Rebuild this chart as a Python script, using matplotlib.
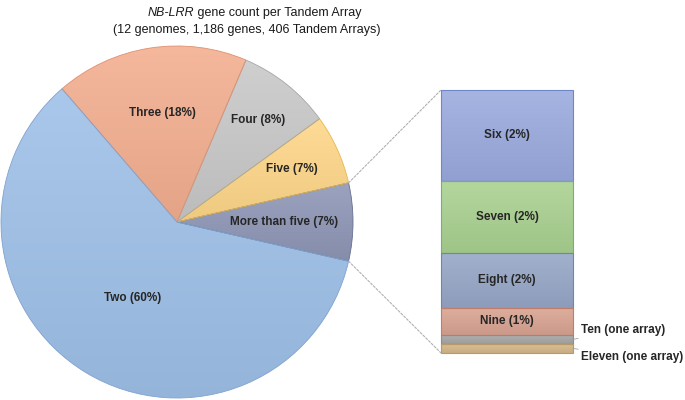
import matplotlib
matplotlib.use("Agg")
import matplotlib.pyplot as plt
from matplotlib.patches import ConnectionPatch
from matplotlib.colors import to_rgb
import numpy as np

plt.rcParams['font.family'] = ['Liberation Sans', 'DejaVu Sans']

# ---- data ----
pie_categories = ["More than five", "Five", "Four", "Three", "Two"]
pie_counts = [29, 26, 35, 72, 244]
pie_pct_labels = ["7%", "7%", "8%", "18%", "60%"]
pie_colors = ["#8e96b6", "#fed688", "#c8c8c8", "#f3ae8f", "#9ec0e8"]
pie_edges = ["#66708f", "#e8b84a", "#a6a6a6", "#e09070", "#7fa3d1"]

bar_categories = ["Six", "Seven", "Eight", "Nine", "Ten", "Eleven"]
bar_counts = [10, 8, 6, 3, 1, 1]
bar_labels = ["Six (2%)", "Seven (2%)", "Eight (2%)", "Nine (1%)", "Ten (one array)", "Eleven (one array)"]
bar_colors = ["#9aaade", "#a9d190", "#95a6c6", "#d9a391", "#a6a6a6", "#d6b889"]
bar_edge = ["#6f86c9", "#7fae6a", "#6e86ad", "#c07e6a", "#8c8c8c", "#b89a6a"]


def mix(c, other, t):
    c = np.array(to_rgb(c)); o = np.array(to_rgb(other))
    return c * (1 - t) + o * t


def grad_fill(ax, patch, color, zorder):
    verts = ax.transData.inverted().transform(patch.get_verts())
    x0, y0 = verts.min(axis=0); x1, y1 = verts.max(axis=0)
    top = mix(color, "white", 0.12); bot = mix(color, "black", 0.06)
    t = np.linspace(0, 1, 64)[:, None]
    img = (top[None, :] * (1 - t) + bot[None, :] * t)[:, None, :]
    im = ax.imshow(img, extent=(x0, x1, y0, y1), origin="upper", aspect="auto",
                   zorder=zorder, interpolation="bilinear")
    im.set_clip_path(patch)


W, H = 685, 400
fig = plt.figure(figsize=(W / 100, H / 100), dpi=100)

# ---- pie ----
cx, cy, r = 177, 222, 176
axp = fig.add_axes([(cx - r) / W, (H - cy - r) / H, 2 * r / W, 2 * r / H])
total = sum(pie_counts)
start = -pie_counts[0] / total * 360 / 2
wedges, _ = axp.pie(pie_counts, colors=pie_colors, startangle=start, counterclock=True,
                    radius=1, wedgeprops=dict(linewidth=0.6))
axp.set_xlim(-1.0, 1.0)
axp.set_ylim(-1.0, 1.0)
axp.set_aspect("equal")
axp.axis("off")
for w, col, ec in zip(wedges, pie_colors, pie_edges):
    w.set_edgecolor(ec)
    w.set_zorder(2)
    w.set_facecolor("none")
    w.set_clip_on(False)
    grad_fill(axp, w, col, 1)
axp.set_xlim(-1.0, 1.0)
axp.set_ylim(-1.0, 1.0)

label_pos = [(0.61, 0.0), (0.655, 0.30), (0.46, 0.58), (-0.08, 0.62), (-0.25, -0.43)]
for name, pct, (lx, ly) in zip(pie_categories, pie_pct_labels, label_pos):
    axp.text(lx, ly, f"{name} ({pct})", ha="center", va="center", fontsize=8.5,
             fontweight="bold", color="#262626", zorder=5)

# ---- bar ----
bx0, bx1, by0, by1 = 441, 573, 90, 353
axb = fig.add_axes([bx0 / W, (H - by1) / H, (bx1 - bx0) / W, (by1 - by0) / H])
sub_total = sum(bar_counts)
bottom = sub_total
seg_mid = []
for cnt, col, ec in zip(bar_counts, bar_colors, bar_edge):
    bottom -= cnt
    bc = axb.bar(0, cnt, bottom=bottom, width=1.0, color="none", edgecolor=ec,
                 linewidth=0.8, zorder=2, clip_on=False)
    grad_fill(axb, bc.patches[0], col, 1)
    seg_mid.append(bottom + cnt / 2)
axb.set_xlim(-0.5, 0.5)
axb.set_ylim(0, sub_total)
axb.axis("off")

for lab, ym in zip(bar_labels[:4], seg_mid[:4]):
    axb.text(0, ym, lab, ha="center", va="center", fontsize=8.5, fontweight="bold",
             color="#262626", zorder=5)

# small-segment labels with leaders
for lab, ym, dy in zip(bar_labels[4:], seg_mid[4:], [1.05, -0.95]):
    axb.annotate(lab, xy=(0.5, ym), xytext=(0.56, ym + dy), textcoords="data",
                 ha="left", va="center", fontsize=8.5, fontweight="bold", color="#262626",
                 annotation_clip=False,
                 arrowprops=dict(arrowstyle="-", color="#a0a0a0", lw=0.6,
                                 shrinkA=0, shrinkB=0))

# ---- connection lines ----
a1 = np.deg2rad(start + pie_counts[0] / total * 360)
a0 = np.deg2rad(start)
for ang, yb in [(a1, sub_total), (a0, 0)]:
    con = ConnectionPatch(xyA=(np.cos(ang), np.sin(ang)), coordsA=axp.transData,
                          xyB=(-0.5, yb), coordsB=axb.transData,
                          color="#b0b0b0", lw=0.8, linestyle=(0, (2, 1.5)))
    fig.add_artist(con)

# ---- title ----
fig.text(194 / W, 1 - 16 / H, "NB-LRR", ha="right", va="baseline", fontsize=9,
         style="italic", color="#1a1a1a")
fig.text(194 / W, 1 - 16 / H, " gene count per Tandem Array", ha="left", va="baseline",
         fontsize=9, color="#1a1a1a")
fig.text(247 / W, 1 - 33 / H, "(12 genomes, 1,186 genes, 406 Tandem Arrays)", ha="center",
         va="baseline", fontsize=9, color="#1a1a1a")

fig.savefig("out.png", dpi=100, facecolor="white")
